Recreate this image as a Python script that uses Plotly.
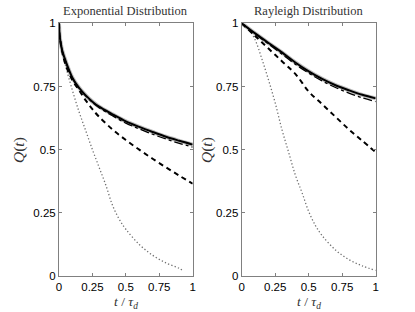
import plotly.graph_objects as go

# ---- data ----
t_exp_solid = [0, 0.005, 0.01, 0.025, 0.05, 0.1, 0.15, 0.2, 0.25, 0.3, 0.4, 0.5, 0.6, 0.7, 0.8, 0.9, 1.0]
q_exp_solid = [1, 0.95, 0.93, 0.89, 0.85, 0.785, 0.745, 0.715, 0.69, 0.67, 0.64, 0.612, 0.59, 0.57, 0.551, 0.535, 0.52]
q_exp_dashdot = [1, 0.95, 0.93, 0.89, 0.848, 0.782, 0.742, 0.712, 0.687, 0.666, 0.634, 0.605, 0.582, 0.561, 0.542, 0.525, 0.51]
q_exp_dashed = [1, 0.95, 0.93, 0.885, 0.835, 0.775, 0.735, 0.695, 0.66, 0.63, 0.58, 0.538, 0.5, 0.464, 0.43, 0.397, 0.365]
t_exp_dotted = [0, 0.005, 0.01, 0.025, 0.05, 0.1, 0.15, 0.2, 0.25, 0.3, 0.35, 0.4, 0.45, 0.5, 0.6, 0.7, 0.8, 0.9, 0.93]
q_exp_dotted = [1, 0.95, 0.93, 0.885, 0.83, 0.735, 0.65, 0.575, 0.5, 0.43, 0.36, 0.28, 0.225, 0.185, 0.125, 0.082, 0.052, 0.03, 0.02]

t_ray = [0, 0.1, 0.2, 0.3, 0.4, 0.5, 0.6, 0.7, 0.8, 0.9, 1.0]
q_ray_solid = [1, 0.96, 0.922, 0.885, 0.845, 0.81, 0.78, 0.755, 0.735, 0.717, 0.703]
q_ray_dashdot = [1, 0.958, 0.918, 0.878, 0.838, 0.803, 0.772, 0.746, 0.724, 0.705, 0.69]
q_ray_dashed = [1, 0.95, 0.9, 0.85, 0.8, 0.73, 0.68, 0.63, 0.58, 0.535, 0.49]
t_ray_dotted = [0, 0.05, 0.1, 0.15, 0.2, 0.25, 0.3, 0.35, 0.4, 0.45, 0.5, 0.55, 0.6, 0.7, 0.8, 0.9, 1.0]
q_ray_dotted = [1, 0.98, 0.935, 0.86, 0.776, 0.685, 0.58, 0.49, 0.4, 0.33, 0.255, 0.2, 0.16, 0.103, 0.065, 0.04, 0.022]

ticks = [0, 0.25, 0.5, 0.75, 1]
tick_text = ["0", "0.25", "0.5", "0.75", "1"]

titles = ["Exponential Distribution", "Rayleigh Distribution"]

fig = go.Figure()

def add_set(xa, ya, t_s, qs, qdd, qd, t_d, qdot):
    fig.add_trace(go.Scatter(x=t_s, y=qs, mode="lines", line=dict(color="#bdbdbd", width=4, shape="spline"), xaxis=xa, yaxis=ya, showlegend=False))
    fig.add_trace(go.Scatter(x=t_d, y=qdot, mode="lines", line=dict(color="#707070", width=1.3, dash="1.3px,2.2px", shape="spline"), xaxis=xa, yaxis=ya, showlegend=False))
    fig.add_trace(go.Scatter(x=t_s, y=qd, mode="lines", line=dict(color="black", width=2, dash="5px,4px", shape="spline"), xaxis=xa, yaxis=ya, showlegend=False))
    fig.add_trace(go.Scatter(x=t_s, y=qdd, mode="lines", line=dict(color="black", width=1.3, dash="dashdot", shape="spline"), xaxis=xa, yaxis=ya, showlegend=False))
    fig.add_trace(go.Scatter(x=t_s, y=qs, mode="lines", line=dict(color="black", width=2, shape="spline"), xaxis=xa, yaxis=ya, showlegend=False))

add_set("x", "y", t_exp_solid, q_exp_solid, q_exp_dashdot, q_exp_dashed, t_exp_dotted, q_exp_dotted)
add_set("x2", "y2", t_ray, q_ray_solid, q_ray_dashdot, q_ray_dashed, t_ray_dotted, q_ray_dotted)

axis_common = dict(range=[0, 1], tickvals=ticks, ticktext=tick_text, showgrid=False, zeroline=False,
                   showline=True, linecolor="#808080", linewidth=1, mirror="ticks", ticks="inside",
                   ticklen=3, tickcolor="#808080", automargin=False,
                   tickfont=dict(family="Liberation Sans", size=11.5, color="black"))

ydom = [1 - 276 / 312, 1 - 23.3 / 312]
fig.update_layout(
    template="none",
    width=415, height=312, margin=dict(l=0, r=0, t=0, b=0, pad=0, autoexpand=False),
    plot_bgcolor="white", paper_bgcolor="white",
    xaxis=dict(domain=[59 / 415, 192.7 / 415], anchor="y", **axis_common),
    yaxis=dict(domain=ydom, anchor="x", **axis_common),
    xaxis2=dict(domain=[241.7 / 415, 375.7 / 415], anchor="y2", **axis_common),
    yaxis2=dict(domain=ydom, anchor="x2", **axis_common),
)

ann = []
centers = [(59 + 192.7) / 2, (241.7 + 375.7) / 2]
ycenters = [19, 207]
for i, c in enumerate(centers):
    ann.append(dict(x=c / 415, y=1 - 11 / 312, xref="paper", yref="paper", text=titles[i], showarrow=False,
                    font=dict(family="Liberation Serif", size=12.5, color="#333"), xanchor="center", yanchor="middle"))
    ann.append(dict(x=c / 415, y=1 - 302 / 312, xref="paper", yref="paper",
                    text="<i>t</i> / <i>τ</i><sub><i>d</i></sub>", showarrow=False,
                    font=dict(family="Liberation Serif", size=13.5, color="#333"), xanchor="center", yanchor="middle"))
    ann.append(dict(x=ycenters[i] / 415, y=1 - 150 / 312, xref="paper", yref="paper",
                    text="<i>Q</i>(<i>t</i>)", showarrow=False, textangle=-90,
                    font=dict(family="Liberation Serif", size=15.5, color="#333"), xanchor="center", yanchor="middle"))
fig.update_layout(annotations=ann)

fig.write_html("out.html", config={"displayModeBar": False},
               post_script="document.body.style.margin='0';document.body.style.overflow='hidden';")
